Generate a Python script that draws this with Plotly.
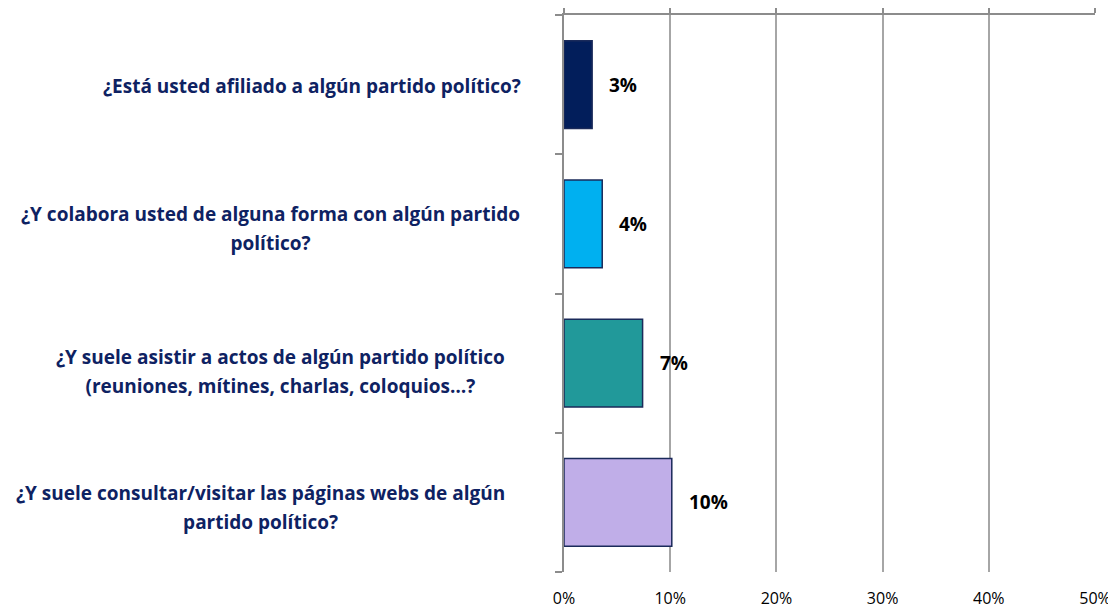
import plotly.graph_objects as go

categories = [
    "¿Está usted afiliado a algún partido político?",
    "¿Y colabora usted de alguna forma con algún partido<br>político?",
    "¿Y suele asistir a actos de algún partido político<br>(reuniones, mítines, charlas, coloquios…?",
    "¿Y suele consultar/visitar las páginas webs de algún<br>partido político?",
]
values = [2.65, 3.6, 7.4, 10.15]
bar_colors = ["#021E5B", "#00B0F0", "#21999A", "#C0AEE8"]
tick_vals = [0, 10, 20, 30, 40, 50]
tick_text = ["0%", "10%", "20%", "30%", "40%", "50%"]

# label centre offsets (px from plot left edge) and vertical nudges
label_xshift = [-252, -294, -284, -304]
label_yshift = [-1, -5, -8, -5]

NAVY = "#0E2262"
FONT = "Open Sans"

fig = go.Figure()
fig.add_trace(go.Bar(
    x=values, y=list(range(len(categories))), orientation="h",
    marker=dict(color=bar_colors, line=dict(color="#1A2A5A", width=1.5)),
    width=0.63, hoverinfo="skip", showlegend=False,
))
# invisible trace for the top axis
fig.add_trace(go.Scatter(x=[0, 50], y=[0, 0], xaxis="x2", mode="markers",
                         marker=dict(opacity=0), showlegend=False, hoverinfo="skip"))

annotations = []
for i, (v, c) in enumerate(zip(values, categories)):
    annotations.append(dict(
        x=v, y=i, xref="x", yref="y", text=f"<b>{round(v)}%</b>",
        showarrow=False, xanchor="left", xshift=15,
        font=dict(family=FONT, size=19, color="#000000"),
    ))
    annotations.append(dict(
        x=0, y=i, xref="x", yref="y",
        text=f'<span style="font-size:19px"><b>{c}</b></span>',
        showarrow=False, xanchor="center", align="center",
        xshift=label_xshift[i], yshift=label_yshift[i],
        font=dict(family=FONT, size=22, color=NAVY),
    ))

# page body has an 8px margin, so the figure is drawn 8px in from the window edge
fig.update_layout(
    width=1108, height=600,
    margin=dict(l=556, r=21, t=7, b=36, autoexpand=False),
    plot_bgcolor="white", paper_bgcolor="white",
    bargap=0.37,
    xaxis=dict(range=[0, 50], tickvals=tick_vals, ticktext=tick_text,
               showgrid=True, gridcolor="#A6A6A6", gridwidth=2,
               showline=False, zeroline=False, ticks="", automargin=False,
               ticklabelstandoff=15,
               tickfont=dict(family=FONT, size=16, color="#000000"),
               fixedrange=True),
    xaxis2=dict(range=[0, 50], overlaying="x", side="top", tickvals=tick_vals,
                showticklabels=False, showgrid=False, zeroline=False,
                showline=True, linecolor="#8C8C8C", linewidth=2, automargin=False,
                ticks="outside", ticklen=6, tickwidth=2, tickcolor="#8C8C8C"),
    yaxis=dict(range=[3.5, -0.5], tickvals=[-0.5, 0.5, 1.5, 2.5, 3.5],
               showticklabels=False, ticks="outside", ticklen=7, tickwidth=2,
               tickcolor="#8C8C8C", showline=True, linecolor="#8C8C8C",
               linewidth=2, showgrid=False, zeroline=False, automargin=False),
    annotations=annotations,
)

fig.write_html("out.html")
